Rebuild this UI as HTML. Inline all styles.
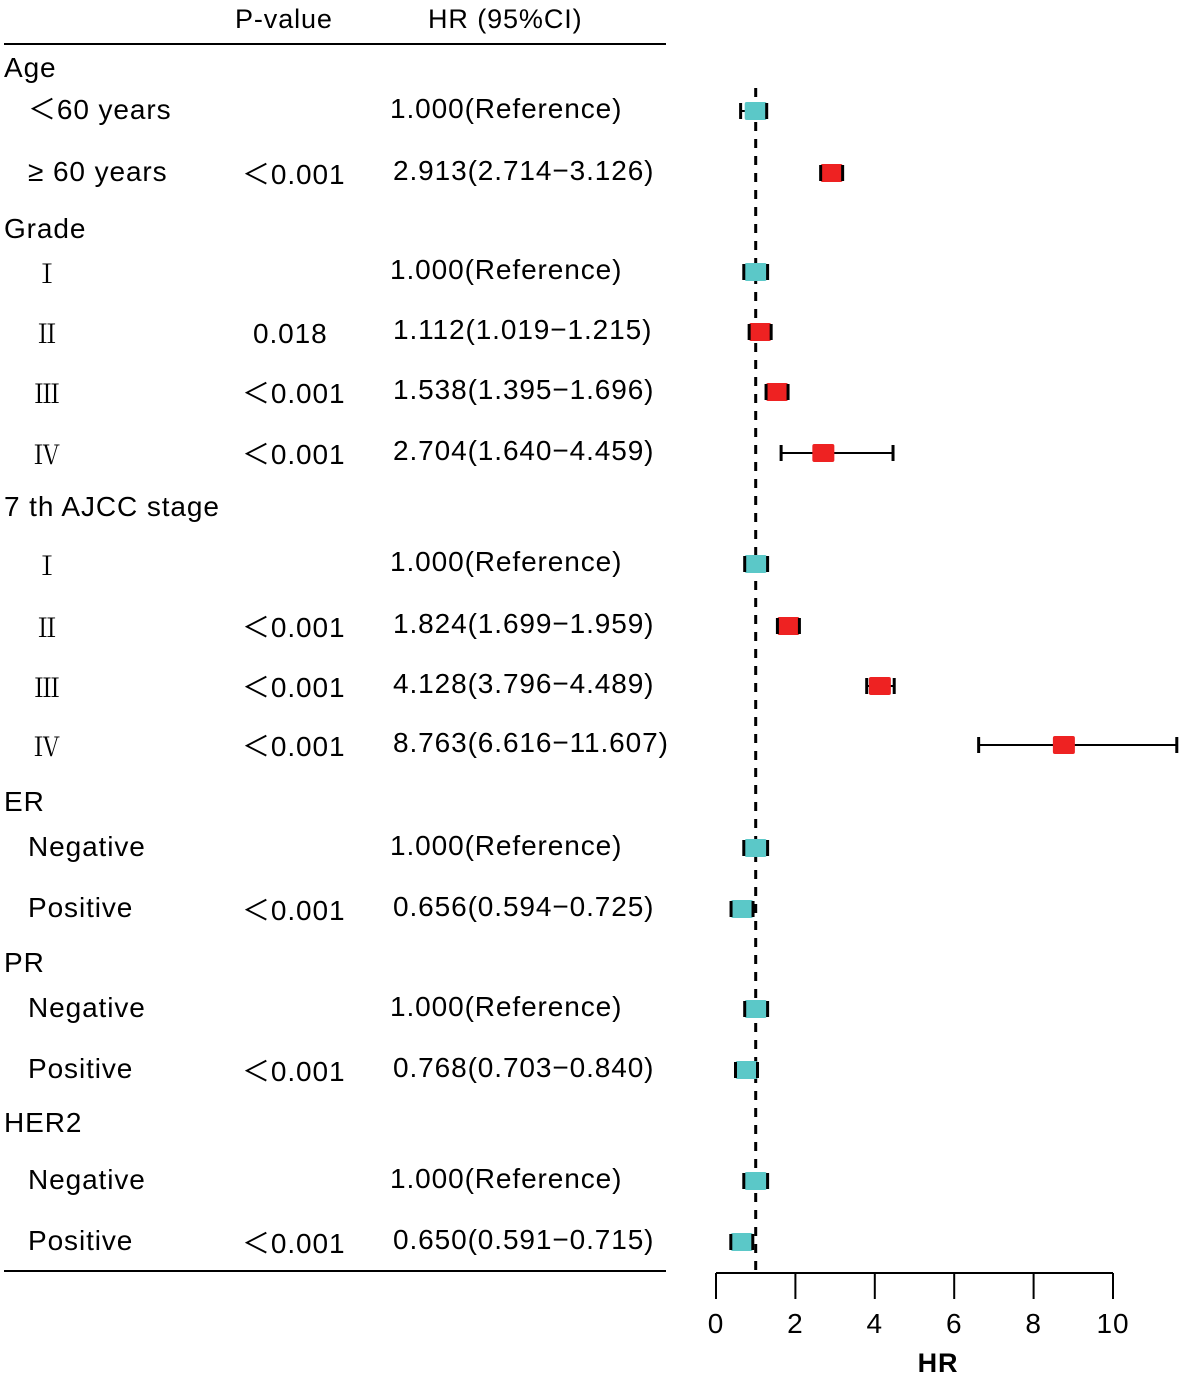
<!DOCTYPE html>
<html><head><meta charset="utf-8"><style>
body{margin:0;background:#fff;}
svg{display:block;font-family:"Liberation Sans",sans-serif;}
text{letter-spacing:0.9px;}
</style></head><body>
<svg id="chart" width="1181" height="1383">
<g id="table"></g>
<g id="plot"></g>
</svg>
<script>
const labels=["Age","＜60 years","≥ 60 years","Grade","Ⅰ","Ⅱ","Ⅲ","Ⅳ","7 th AJCC stage","Ⅰ","Ⅱ","Ⅲ","Ⅳ","ER","Negative","Positive","PR","Negative","Positive","HER2","Negative","Positive"];
const pvals=["","","＜0.001","","","0.018","＜0.001","＜0.001","","","＜0.001","＜0.001","＜0.001","","","＜0.001","","","＜0.001","","","＜0.001"];
const hrText=["","1.000(Reference)","2.913(2.714−3.126)","","1.000(Reference)","1.112(1.019−1.215)","1.538(1.395−1.696)","2.704(1.640−4.459)","","1.000(Reference)","1.824(1.699−1.959)","4.128(3.796−4.489)","8.763(6.616−11.607)","","1.000(Reference)","0.656(0.594−0.725)","","1.000(Reference)","0.768(0.703−0.840)","","1.000(Reference)","0.650(0.591−0.715)"];
const hr=[null,1,2.913,null,1,1.112,1.538,2.704,null,1,1.824,4.128,8.763,null,1,0.656,null,1,0.768,null,1,0.650];
const lo=[null,0.62,2.714,null,0.7,1.019,1.395,1.640,null,0.75,1.699,3.796,6.616,null,0.7,0.594,null,0.75,0.703,null,0.7,0.591];
const hi=[null,1.24,3.126,null,1.3,1.215,1.696,4.459,null,1.3,1.959,4.489,11.607,null,1.3,0.725,null,1.3,0.840,null,1.3,0.715];
const rowY=[68,110,172,229,271,331,391,452,507,563,625,685,744,802,847,908,963,1008,1069,1123,1180,1241];
const ticks=[0,2,4,6,8,10];
const NS="http://www.w3.org/2000/svg";
function x(v){return 716+v*39.7;}
function mk(parent,tag,attrs,text){const e=document.createElementNS(NS,tag);for(const k in attrs)e.setAttribute(k,attrs[k]);if(text!==undefined)e.textContent=text;parent.appendChild(e);return e;}
const T=document.getElementById('table'),P=document.getElementById('plot');
let h;
h=mk(T,'text',{x:235,y:28,'font-size':27},'P-value');


h=mk(T,'text',{x:428,y:28,'font-size':27},'HR (95%CI)');


h=mk(T,'line',{x1:4,x2:666,y1:44,y2:44,stroke:'#000','stroke-width':2});


h=mk(T,'line',{x1:4,x2:666,y1:1271,y2:1271,stroke:'#000','stroke-width':2});


labels.forEach((l,i)=>{
  const isHead=hr[i]===null;
  const roman=/^[ⅠⅡⅢⅣ]$/.test(l);
  const t=mk(T,'text',{x:isHead?4:(roman?34:28),y:rowY[i]+(roman?12:9),'font-size':roman?26:28,'font-family':roman?'"Noto Serif CJK SC",serif':'"Liberation Sans","Noto Sans CJK SC",sans-serif','letter-spacing':roman?0:0.9},l);
  
  
  if(pvals[i]){const p=mk(T,'text',{x:pvals[i]==='0.018'?253:242,y:rowY[i]+12,'font-size':28,'font-family':'"Liberation Sans","Noto Sans CJK SC",sans-serif'},pvals[i]);
  
  }
  if(hrText[i]){const q=mk(T,'text',{x:hrText[i].startsWith('1.000')?390:393,y:rowY[i]+8,'font-size':28},hrText[i]);
  
  }
});
h=mk(P,'line',{x1:x(1),x2:x(1),y1:88,y2:1270,stroke:'#000','stroke-width':3,'stroke-dasharray':'9 8'});


hr.forEach((v,i)=>{
  if(v===null)return;
  const y=rowY[i]+1;
  const col=v<=1?'#5bc8c8':'#ee2222';
  const cx=x(v);
  const xl=Math.min(x(lo[i]),cx-11), xr=Math.max(x(hi[i]),cx+11);
  const l=mk(P,'line',{x1:x(lo[i]),x2:x(hi[i]),y1:y,y2:y,stroke:'#000','stroke-width':2});
  
  
  const r=mk(P,'rect',{x:cx-11,y:y-9,width:22,height:18,rx:2,fill:col});
  
  
  [xl,xr].forEach(e=>{const c=mk(P,'line',{x1:e,x2:e,y1:y-8,y2:y+8,stroke:'#000','stroke-width':3});
  
  });
});
h=mk(P,'line',{x1:x(0),x2:x(10),y1:1273,y2:1273,stroke:'#000','stroke-width':2});


ticks.forEach(t=>{
  const k=mk(P,'line',{x1:x(t),x2:x(t),y1:1273,y2:1299,stroke:'#000','stroke-width':2});
  
  
  const lb=mk(P,'text',{x:x(t),y:1333,'font-size':28,'text-anchor':'middle'},String(t));
  
  
});
h=mk(P,'text',{x:938,y:1372,'font-size':27,'font-weight':'bold','text-anchor':'middle'},'HR');


</script>
</body></html>
